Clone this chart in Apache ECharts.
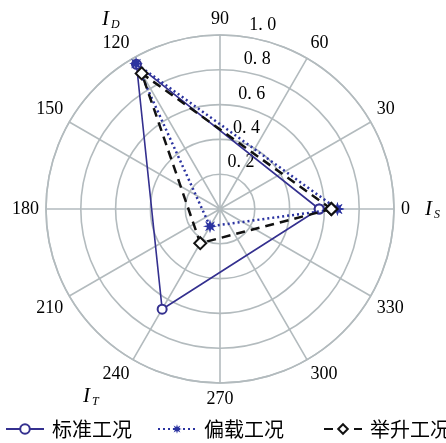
<!DOCTYPE html>
<html><head><meta charset="utf-8">
<script src="https://cdn.jsdelivr.net/npm/echarts@6/dist/echarts.min.js"></script>
<style>html,body{margin:0;padding:0;background:#fff}#c{width:446px;height:443px}</style>
</head><body><div id="c"></div>
<script>
const seriesNames = ['标准工况', '偏载工况', '举升工况'];
const angles = [0, 120, 240];           // I_S, I_D, I_T directions
const standardVals = [0.57, 0.96, 0.665];
const offsetVals = [0.675, 0.965, 0.115];
const liftVals = [0.64, 0.90, 0.227];
const radiusTicks = [0, 0.2, 0.4, 0.6, 0.8, 1.0];
const angleTicks = [0, 30, 60, 90, 120, 150, 180, 210, 240, 270, 300, 330];

function closed(vals) {
  const d = vals.map((v, i) => [v, angles[i]]);
  d.push(d[0]);
  return d;
}
function starPath(n, ro, ri) {
  let p = '';
  for (let i = 0; i < 2 * n; i++) {
    const r = i % 2 ? ri : ro;
    const a = Math.PI * i / n;
    p += (i ? 'L' : 'M') + (50 + 50 * r * Math.sin(a)).toFixed(1) + ' ' + (50 - 50 * r * Math.cos(a)).toFixed(1);
  }
  return 'path://' + p + 'Z';
}
const gridColor = '#b3bbbe';
const serif = '"Liberation Serif", "DejaVu Serif", serif';
const center = [220, 209], R = 174;
const rMin = radiusTicks[0], rMax = radiusTicks[radiusTicks.length - 1];
const chart = echarts.init(document.getElementById('c'));
const subRich = {
  i: { fontFamily: serif, fontStyle: 'italic', fontSize: 21, fill: '#000' },
  s: { fontFamily: serif, fontStyle: 'italic', fontSize: 12, fill: '#000', padding: [11, 0, 0, 2] }
};
const legendBase = {
  bottom: -1, itemWidth: 38, itemHeight: 12,
  textStyle: { fontFamily: '"Noto Sans CJK SC"', fontSize: 20, color: '#000', padding: [0, 0, 0, 3] }
};
chart.setOption({
  animation: false,
  backgroundColor: '#fff',
  polar: [{ center: center, radius: R }, { center: center, radius: R }],
  angleAxis: [{
    polarIndex: 0,
    type: 'value', min: 0, max: 360, interval: 30, startAngle: 0, clockwise: false,
    axisLine: { show: true, lineStyle: { color: gridColor, width: 1.6 } },
    axisTick: { show: false },
    splitLine: { show: true, lineStyle: { color: gridColor, width: 1.6 } },
    axisLabel: {
      margin: 7, color: '#000', fontFamily: serif, fontSize: 18,
      formatter: v => (angleTicks.indexOf(v) >= 0 ? String(v) : '')
    }
  }, {
    polarIndex: 1, type: 'value', min: 0, max: 360, startAngle: 81, show: false
  }],
  radiusAxis: [{
    polarIndex: 0,
    type: 'value', min: rMin, max: rMax, interval: 0.2,
    axisLine: { show: false }, axisTick: { show: false },
    splitLine: { show: true, lineStyle: { color: gridColor, width: 1.6 } },
    axisLabel: { show: false }
  }, {
    polarIndex: 1,
    type: 'value', min: rMin, max: rMax, interval: 0.2,
    axisLine: { show: false }, axisTick: { show: false }, splitLine: { show: false },
    axisLabel: {
      margin: 0, align: 'left', verticalAlign: 'bottom', color: '#000', fontFamily: serif, fontSize: 18,
      padding: [0, 0, 3, 2],
      formatter: v => (v === 0 ? '' : v.toFixed(1).replace('.', '. '))
    }
  }],
  legend: [
    Object.assign({ left: 0, data: [seriesNames[0]] }, legendBase),
    Object.assign({ left: 152, data: [seriesNames[1]] }, legendBase),
    Object.assign({ left: 318, data: [seriesNames[2]] }, legendBase)
  ],
  series: [
    {
      name: seriesNames[0], type: 'line', coordinateSystem: 'polar', polarIndex: 0, data: closed(standardVals),
      symbol: 'emptyCircle', symbolSize: 9, z: 3,
      lineStyle: { color: '#34308f', width: 1.6 },
      itemStyle: { color: '#34308f', borderWidth: 2 }
    },
    {
      name: seriesNames[1], type: 'line', coordinateSystem: 'polar', polarIndex: 0, data: closed(offsetVals),
      symbol: starPath(8, 1, 0.45), symbolSize: 14, z: 4,
      lineStyle: { color: '#2b33a0', width: 2.5, type: [2, 3] },
      itemStyle: { color: '#2b33a0' }
    },
    {
      name: seriesNames[2], type: 'line', coordinateSystem: 'polar', polarIndex: 0, data: closed(liftVals),
      symbol: 'emptyDiamond', symbolSize: 12, z: 5,
      lineStyle: { color: '#111', width: 2.5, type: [9, 6] },
      itemStyle: { color: '#111', borderWidth: 1.8 }
    }
  ],
  graphic: [
    { type: 'text', left: 102, top: 9, style: { text: '{i|I}{s|D}', rich: subRich } },
    { type: 'text', left: 425, top: 199, style: { text: '{i|I}{s|S}', rich: subRich } },
    { type: 'text', left: 83, top: 386, style: { text: '{i|I}{s|T}', rich: subRich } }
  ]
});
</script></body></html>
